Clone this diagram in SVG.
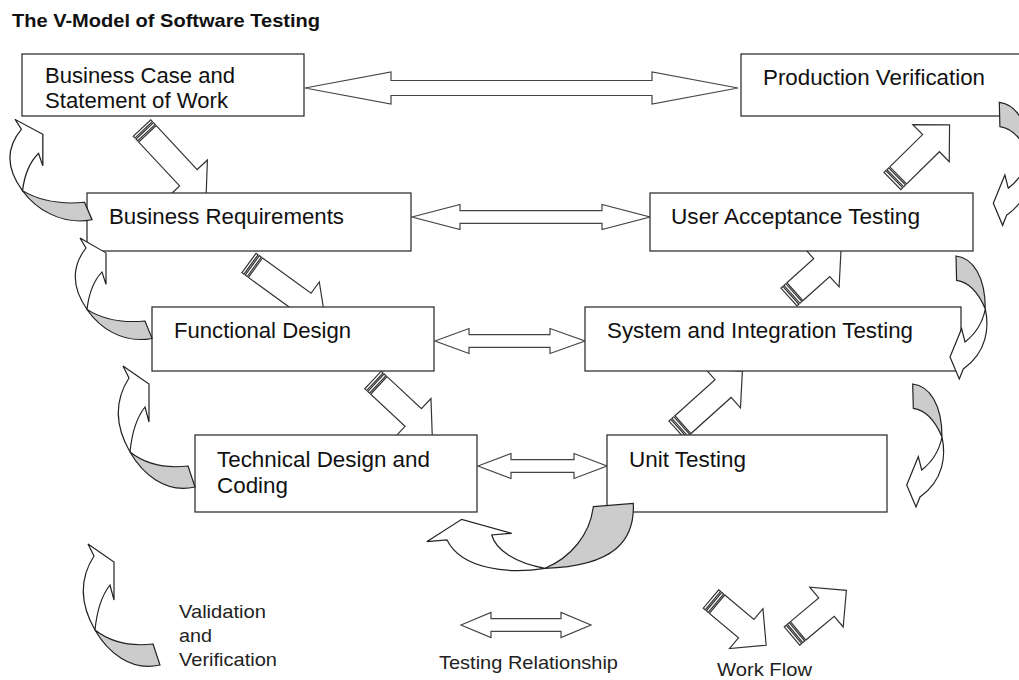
<svg xmlns="http://www.w3.org/2000/svg" width="1019" height="680" viewBox="0 0 1019 680">
<style>
.box{fill:#fff;stroke:#333;stroke-width:1.3}
.t{font-family:"Liberation Sans",Arial,sans-serif;font-size:21.5px;fill:#111}
.lg{font-family:"Liberation Sans",Arial,sans-serif;font-size:19px;fill:#222}
.ttl{font-family:"Liberation Sans",Arial,sans-serif;font-size:18.5px;font-weight:bold;fill:#111}
.da{fill:#fff;stroke:#444;stroke-width:1.2;stroke-linejoin:miter}
.ba{fill:#fff;stroke:#333;stroke-width:1.2}
.cw{fill:#fff;stroke:#222;stroke-width:1.2}
.cg{fill:#ccc;stroke:#222;stroke-width:1.2}
</style>
<defs>
<g id="curveL">
<path class="cw" d="M95,630 Q72,590 94,556 L88,544 L114,562 L114,600 L110,585 Q98,600 95,630 Z"/>
<path class="cg" d="M95,630 Q118,648 153,644 L160,665 C130,672 107,651 95,630 Z"/>
</g>
<g id="curveR">
<path class="cw" d="M942,437 C946,455 944,480 920,497 L916,507 L906.7,485 L918.3,456.7 L921.7,470 C932,462 939,452 942,437 Z"/>
<path class="cg" d="M912.7,384 C930,386 942,405 942,437 C935,420 925,410 913.3,408.3 Z"/>
</g>
</defs>

<text class="ttl" x="12" y="27" textLength="308" lengthAdjust="spacingAndGlyphs">The V-Model of Software Testing</text>

<g id="workflow">
<g transform="translate(142,128) rotate(47)"><path class="ba" d="M8,-12 H68 V-26 L94,0 L68,26 V12 H8 Z"/><rect class="ba" x="0" y="-12" width="2.5" height="24"/><rect class="ba" x="4" y="-12" width="2.5" height="24"/></g>
<g transform="translate(249,263) rotate(36)"><path class="ba" d="M8,-12 H68 V-26 L94,0 L68,26 V12 H8 Z"/><rect class="ba" x="0" y="-12" width="2.5" height="24"/><rect class="ba" x="4" y="-12" width="2.5" height="24"/></g>
<g transform="translate(373,380) rotate(43)"><path class="ba" d="M8,-12 H55 V-26 L81,0 L55,26 V12 H8 Z"/><rect class="ba" x="0" y="-12" width="2.5" height="24"/><rect class="ba" x="4" y="-12" width="2.5" height="24"/></g>
<g transform="translate(677,430) rotate(-42)"><path class="ba" d="M8,-12 H62 V-26 L88,0 L62,26 V12 H8 Z"/><rect class="ba" x="0" y="-12" width="2.5" height="24"/><rect class="ba" x="4" y="-12" width="2.5" height="24"/></g>
<g transform="translate(789,297) rotate(-42)"><path class="ba" d="M8,-12 H44 V-26 L70,0 L44,26 V12 H8 Z"/><rect class="ba" x="0" y="-12" width="2.5" height="24"/><rect class="ba" x="4" y="-12" width="2.5" height="24"/></g>
<g transform="translate(892.5,181) rotate(-44.5)"><path class="ba" d="M8,-12 H54 V-26 L80,0 L54,26 V12 H8 Z"/><rect class="ba" x="0" y="-12" width="2.5" height="24"/><rect class="ba" x="4" y="-12" width="2.5" height="24"/></g>
</g>

<g id="testing-relationships">
<path class="da" d="M305,88 L391,72 V80.5 H652 V72 L738,88 L652,104 V95.5 H391 V104 Z"/>
<path class="da" d="M412,217 L460,204.5 V210.7 H602 V204.5 L650,217 L602,229.5 V223.3 H460 V229.5 Z"/>
<path class="da" d="M435,341 L469,328.5 V334.7 H550 V328.5 L585,341 L550,353.5 V347.3 H469 V353.5 Z"/>
<path class="da" d="M478,466 L511,453.5 V459.7 H574 V453.5 L607,466 L574,478.5 V472.3 H511 V478.5 Z"/>
</g>

<g id="n-business-case"><rect class="box" x="22" y="54" width="282" height="62"/>
<text class="t" x="45" y="83" textLength="190" lengthAdjust="spacingAndGlyphs">Business Case and</text>
<text class="t" x="45" y="108" textLength="183" lengthAdjust="spacingAndGlyphs">Statement of Work</text></g>
<g id="n-production-verification"><rect class="box" x="741" y="54" width="300" height="62"/>
<text class="t" x="763" y="85" textLength="222" lengthAdjust="spacingAndGlyphs">Production Verification</text></g>
<g id="n-business-requirements"><rect class="box" x="87" y="193" width="324" height="58"/>
<text class="t" x="109" y="224" textLength="235" lengthAdjust="spacingAndGlyphs">Business Requirements</text></g>
<g id="n-user-acceptance"><rect class="box" x="650" y="193" width="323" height="58"/>
<text class="t" x="671" y="224" textLength="249" lengthAdjust="spacingAndGlyphs">User Acceptance Testing</text></g>
<g id="n-functional-design"><rect class="box" x="152" y="307" width="282" height="64"/>
<text class="t" x="174" y="338" textLength="177" lengthAdjust="spacingAndGlyphs">Functional Design</text></g>
<g id="n-system-integration"><rect class="box" x="585" y="307" width="376" height="64"/>
<text class="t" x="607" y="338" textLength="306" lengthAdjust="spacingAndGlyphs">System and Integration Testing</text></g>
<g id="n-technical-design"><rect class="box" x="195" y="435" width="282" height="77"/>
<text class="t" x="217" y="467" textLength="213" lengthAdjust="spacingAndGlyphs">Technical Design and</text>
<text class="t" x="217" y="493" textLength="71" lengthAdjust="spacingAndGlyphs">Coding</text></g>
<g id="n-unit-testing"><rect class="box" x="607" y="435" width="280" height="77"/>
<text class="t" x="629" y="467" textLength="117" lengthAdjust="spacingAndGlyphs">Unit Testing</text></g>

<g id="validation-verification">
<use href="#curveL" transform="translate(15,119.3) scale(1.07,0.83) translate(-88,-544)"/>
<use href="#curveL" transform="translate(80,238) scale(1,0.83) translate(-88,-544)"/>
<use href="#curveL" transform="translate(35,-178)"/>
<use href="#curveR" transform="translate(86.6,-281.7)"/>
<use href="#curveR" transform="translate(43.3,-128)"/>
<use href="#curveR"/>
<g>
<path class="cg" d="M593.3,506.7 L633.3,503.3 C635,540 615,566 545,568.3 C570,558 590,535 593.3,506.7 Z"/>
<path class="cw" d="M545,568.3 C510,574 462,570 447,540 L426.7,541.7 L461.7,519.3 L511.7,533.3 L491.7,535 C496,550 515,563 545,568.3 Z"/>
</g>
</g>

<g id="legend">
<use href="#curveL"/>
<text class="lg" x="179" y="618" textLength="87" lengthAdjust="spacingAndGlyphs">Validation</text>
<text class="lg" x="179" y="642" textLength="33" lengthAdjust="spacingAndGlyphs">and</text>
<text class="lg" x="179" y="666" textLength="98" lengthAdjust="spacingAndGlyphs">Verification</text>
<path class="da" d="M461,625 L491,612.5 V618.7 H561 V612.5 L591,625 L561,637.5 V631.3 H491 V637.5 Z"/>
<text class="lg" x="439" y="669" textLength="179" lengthAdjust="spacingAndGlyphs">Testing Relationship</text>
<g transform="translate(711,599) rotate(40)"><path class="ba" d="M8,-12 H46 V-26 L72,0 L46,26 V12 H8 Z"/><rect class="ba" x="0" y="-12" width="2.5" height="24"/><rect class="ba" x="4" y="-12" width="2.5" height="24"/></g>
<g transform="translate(792,636) rotate(-40)"><path class="ba" d="M8,-12 H45 V-26 L71,0 L45,26 V12 H8 Z"/><rect class="ba" x="0" y="-12" width="2.5" height="24"/><rect class="ba" x="4" y="-12" width="2.5" height="24"/></g>
<text class="lg" x="717" y="676" textLength="95" lengthAdjust="spacingAndGlyphs">Work Flow</text>
</g>
</svg>
